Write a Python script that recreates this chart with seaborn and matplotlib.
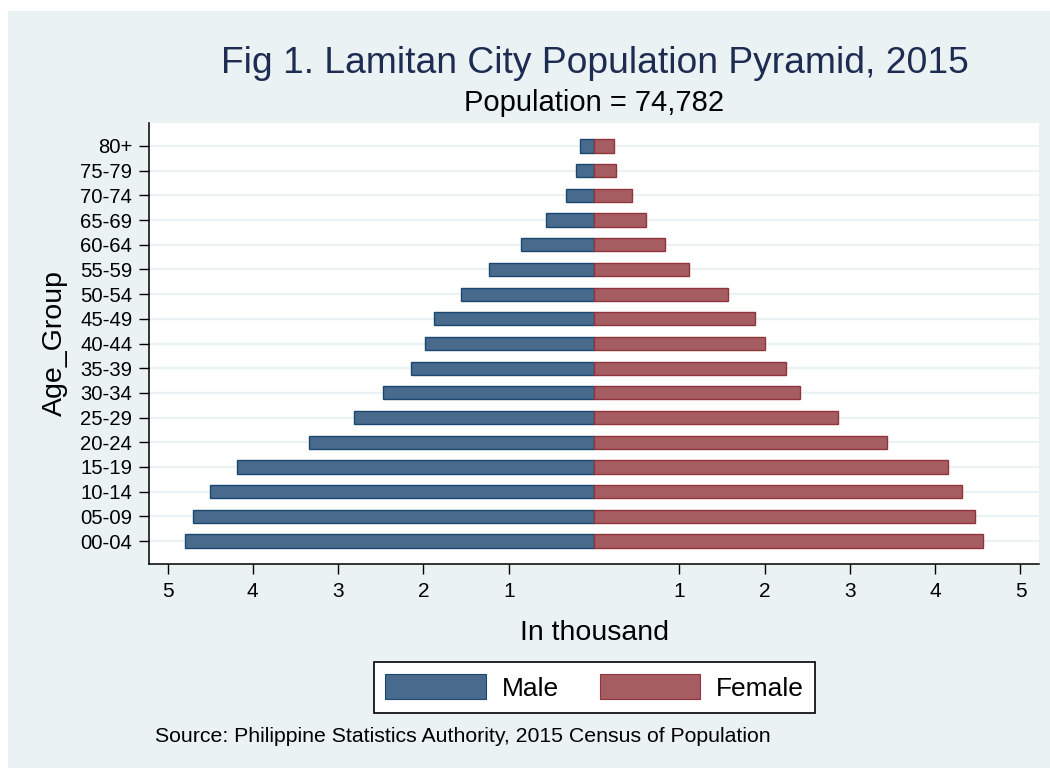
import matplotlib
matplotlib.use("Agg")
import matplotlib.pyplot as plt
from matplotlib.patches import Rectangle, Patch
import seaborn as sns

# population by age group, in thousands (top row first)
age_groups = ["80+", "75-79", "70-74", "65-69", "60-64", "55-59", "50-54", "45-49",
              "40-44", "35-39", "30-34", "25-29", "20-24", "15-19", "10-14", "05-09", "00-04"]
male = [0.16, 0.21, 0.33, 0.56, 0.86, 1.23, 1.56, 1.87, 1.98, 2.15, 2.47, 2.81,
        3.34, 4.18, 4.50, 4.70, 4.79]
female = [0.24, 0.26, 0.45, 0.61, 0.83, 1.11, 1.57, 1.89, 2.00, 2.25, 2.42, 2.86,
          3.44, 4.15, 4.31, 4.47, 4.56]
x_ticks = [-5, -4, -3, -2, -1, 1, 2, 3, 4, 5]
x_tick_labels = ["5", "4", "3", "2", "1", "1", "2", "3", "4", "5"]

bg = "#EAF2F3"
male_fill, male_edge = "#486a8c", "#1a476f"
female_fill, female_edge = "#a65d62", "#90353b"
title_color = "#1e2c52"

sns.set_style("ticks")
plt.rcParams["font.family"] = ["Liberation Sans", "DejaVu Sans"]
plt.rcParams["text.color"] = "black"
plt.rcParams["axes.labelcolor"] = "black"

W, H = 1050, 768
fig = plt.figure(figsize=(W / 100, H / 100), dpi=100, facecolor="white")
# grey graph region with a thin white margin on top/left
fig.patches.append(Rectangle((8 / W, 0), 1 - 8 / W, 1 - 11 / H, transform=fig.transFigure,
                             facecolor=bg, edgecolor="none", zorder=-5))

ax = fig.add_axes([149 / W, 1 - 564 / H, 890 / W, 441 / H])
ax.set_facecolor("white")

sns.barplot(x=[-v for v in male], y=age_groups, order=age_groups, orient="h",
            color=male_fill, edgecolor=male_edge, linewidth=1, width=0.53,
            saturation=1, ax=ax, zorder=3)
sns.barplot(x=female, y=age_groups, order=age_groups, orient="h",
            color=female_fill, edgecolor=female_edge, linewidth=1, width=0.53,
            saturation=1, ax=ax, zorder=3)

ax.set_xlim(-5.217, 5.217)
ax.set_ylim(16.93, -0.93)
ax.set_xticks(x_ticks)
ax.set_xticklabels(x_tick_labels)

ax.set_axisbelow(True)
ax.yaxis.grid(True, color=bg, linewidth=1.6)
ax.xaxis.grid(False)

for s in ["top", "right"]:
    ax.spines[s].set_visible(False)
for s in ["left", "bottom"]:
    ax.spines[s].set_color("black")
    ax.spines[s].set_linewidth(1.1)

ax.tick_params(axis="x", length=7.2, width=1, pad=5.8, labelsize=15, colors="black")
ax.tick_params(axis="y", length=7, width=1, pad=5, labelsize=14.6, colors="black")

ax.set_xlabel("In thousand", fontsize=20.5)
ax.xaxis.set_label_coords(0.5, (564 - 633) / 441)
ax.xaxis.label.set_va("center")
ax.set_ylabel("Age_Group", fontsize=20.5)
ax.yaxis.set_label_coords((55 - 149) / 890, 0.5)
ax.yaxis.label.set_va("center")

fig.text(595 / W, 1 - 73 / H, "Fig 1. Lamitan City Population Pyramid, 2015",
         ha="center", va="baseline", fontsize=26.8, color=title_color)
fig.text(594 / W, 1 - 111 / H, "Population = 74,782",
         ha="center", va="baseline", fontsize=21, color="black")
fig.text(155 / W, 1 - 736 / H, "Source: Philippine Statistics Authority, 2015 Census of Population",
         ha="left", va="center", fontsize=15.3, color="black")

handles = [Patch(facecolor=male_fill, edgecolor=male_edge, linewidth=0.8),
           Patch(facecolor=female_fill, edgecolor=female_edge, linewidth=0.8)]
leg = fig.legend(handles, ["Male", "Female"], loc="center",
                 bbox_to_anchor=(594.5 / W, 1 - 687.5 / H), ncol=2, fontsize=19,
                 handlelength=3.8, handleheight=1.06, handletextpad=0.6,
                 columnspacing=1.55, borderpad=0.45, frameon=True, fancybox=False,
                 edgecolor="black", facecolor="white", framealpha=1, labelcolor="black")
leg.get_frame().set_linewidth(1.2)

fig.savefig("out.png", dpi=100, facecolor=fig.get_facecolor())
